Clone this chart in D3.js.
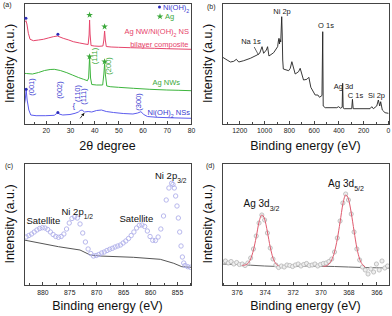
<!DOCTYPE html>
<html>
<head>
<meta charset="utf-8">
<style>
  body { margin: 0; background: #fff; }
  svg { font-family: "Liberation Sans", Arial, sans-serif; }
  .frame { fill: none; stroke: #444; stroke-width: 1; shape-rendering: crispEdges; }
  .axis path { display: none; }
  .axis line { stroke: #444; shape-rendering: crispEdges; }
  .axis text { font-size: 6.8px; fill: #222; font-family: "Liberation Sans", Arial, sans-serif; }
  .ylab, .xlab { font-size: 12.5px; fill: #111; }
  .tag { font-size: 7px; fill: #222; }
</style>
<script src="https://cdnjs.cloudflare.com/ajax/libs/d3/7.8.5/d3.min.js"></script>
</head>
<body>
<script>
// ---- (a) XRD patterns ----
var thetaRed = [11.0, 11.5, 11.8, 12.2, 12.8, 13.5, 14.9, 17, 19, 21, 23.1, 24.8, 27.2, 29.5, 31.4, 34, 36.2, 37.5, 37.9, 38.1, 38.3, 38.7, 40, 42, 43.6, 44.0, 44.3, 44.6, 45.0, 47, 50, 55, 60, 65, 70, 75, 80];
var redXRD = [100.7, 102.5, 103.3, 100, 90.7, 84.7, 83.3, 84, 84.7, 86, 87.3, 88, 85.7, 84, 82.3, 81, 80, 79.5, 89, 104, 90, 78.5, 78, 77.7, 78, 84, 93, 84, 77.5, 77, 76.7, 76.3, 76, 75.7, 75.3, 75, 74.7];

var thetaGreen = [11, 12, 14.5, 17, 19.5, 21.8, 23.5, 26, 28.7, 31, 33.5, 35.6, 37.2, 37.7, 38.1, 38.5, 39, 41, 43.5, 44.0, 44.3, 44.6, 45.2, 46.6, 50, 56.2, 63, 70, 75, 80];
var greenXRD = [50.7, 50.5, 50, 51.5, 53.5, 54.5, 54.7, 53.5, 51.3, 49, 46.5, 44.7, 43.3, 46, 67, 46, 39.5, 39, 39, 50, 60.5, 50, 38, 37.3, 36.7, 35.7, 34.7, 34, 33.7, 33.3];

var thetaBlue = [11.0, 11.5, 11.9, 12.3, 13, 13.8, 16, 20, 23.5, 24.5, 25.0, 25.5, 27, 30, 32.1, 33.5, 34.2, 35, 36, 37.5, 39, 41, 43, 45, 48, 52, 56, 58, 59.3, 60.5, 62, 66, 72, 80];
var blueXRD = [17.3, 24, 34, 24, 14, 9, 8.3, 8.3, 8.7, 10.5, 11.5, 10, 9, 9.5, 10.7, 12, 13.5, 14, 12, 12.5, 12, 13.5, 14, 12.5, 11.5, 10.5, 10, 11, 12.3, 9.5, 7.5, 6.7, 6.2, 5.7];

var niDots = [[11.8, 105.7], [25.0, 89.7], [11.9, 34.7], [25.0, 11.5]];
var agStars = [[38.1, 109], [44.3, 97.3], [38.1, 67.3], [44.3, 62.3]];

// ---- (b) XPS survey ----
var beSurvey = [1334, 1299, 1272, 1245, 1224, 1205, 1165, 1111, 1057, 1036, 1017, 1004, 982, 972, 961, 923, 891, 885, 880, 876, 872, 866, 858, 854, 850, 845, 802, 789, 776, 749, 722, 709, 682, 655, 639, 623, 588, 566, 553, 533, 527, 523, 507, 413, 400, 381, 370, 366, 362, 354, 293, 287, 281, 145, 131, 118, 91, 78, 67, 59, 46, 24, -3];
var survey = [66.7, 64, 62, 62.7, 64.7, 62, 63.3, 65.7, 69, 70.7, 77.3, 70.7, 74, 77.3, 68, 71.3, 77.3, 83, 85.7, 80, 84.5, 82, 107.3, 90, 64, 55, 53.3, 55.7, 62.3, 50, 52.3, 55.7, 44, 44.7, 46.7, 36.7, 29, 29, 26.7, 28.5, 92.3, 18, 16.3, 16.3, 17.3, 15.7, 17, 40.7, 16, 15.3, 15.3, 24.7, 15.3, 15.3, 17.3, 15.3, 18, 24, 18, 22.3, 14, 11.3, 10.7];

// ---- (c) Ni 2p ----
var beNi = [883.0, 882.5, 882.0, 881.5, 881.0, 880.5, 880.0, 879.5, 879.0, 878.5, 878.0, 877.5, 877.0, 876.5, 876.0, 875.5, 875.0, 874.5, 874.0, 873.5, 873.0, 872.5, 872.0, 871.5, 871.0, 870.5, 870.0, 869.5, 869.0, 868.5, 868.0, 867.5, 867.0, 866.5, 866.0, 865.5, 865.0, 864.5, 864.0, 863.5, 863.0, 862.5, 862.0, 861.5, 861.0, 860.5, 860.0, 859.5, 859.0, 858.5, 858.0, 857.5, 857.0, 856.5, 856.0, 855.75, 855.5, 855.25, 855.0, 854.75, 854.5, 854.25, 854.0, 853.75, 853.5, 853.0, 852.5];
var niCounts = [48, 49.5, 51, 53, 55, 56.5, 57.3, 57, 55.5, 53, 50.5, 48.5, 47.7, 48.5, 51, 56, 62, 66.5, 68.3, 67, 61, 52, 43, 36, 31.5, 29, 29.5, 30.5, 32, 33, 34.5, 35.7, 36.7, 38, 39, 40, 42, 44, 46.5, 49.5, 53, 57, 59.7, 60, 58.5, 54, 48.5, 44.7, 44.5, 48, 56, 69, 85, 97, 101.7, 100.5, 97, 89, 79, 67, 53, 39, 28, 22, 19.5, 18.3, 17.7];
var beNiBg = [883.4, 877.0, 873.0, 871.1, 869.3, 863.1, 858.1, 855.6, 854.1, 852.4];
var niBg = [45, 38.3, 35, 30, 29, 27.7, 25.7, 21.7, 18.3, 17.7];

// ---- (d) Ag 3d ----
var beAg = [377.0, 376.8, 376.6, 376.4, 376.2, 376.0, 375.8, 375.6, 375.4, 375.2, 375.0, 374.8, 374.6, 374.4, 374.2, 374.0, 373.8, 373.6, 373.4, 373.2, 373.0, 372.8, 372.6, 372.4, 372.2, 372.0, 371.8, 371.6, 371.4, 371.2, 371.0, 370.8, 370.6, 370.4, 370.2, 370.0, 369.8, 369.6, 369.4, 369.2, 369.0, 368.8, 368.6, 368.4, 368.2, 368.0, 367.8, 367.6, 367.4, 367.2, 367.0, 366.8, 366.6, 366.4, 366.2, 366.0, 365.8, 365.6, 365.4, 365.2];
var agCounts = [23, 24, 22, 23.5, 21, 22.5, 20.5, 21, 19.5, 22, 27, 36, 49, 62, 70, 65, 52, 37, 26, 20, 17.5, 19, 18, 20, 19.5, 18.5, 20, 21, 19, 20.5, 21.5, 19.5, 20, 21, 19, 20.5, 21.5, 22, 23.5, 26, 33, 47, 64, 82, 91, 85, 71, 53, 36, 25, 18, 15, 11, 16, 13, 21, 15, 24, 17, 19];
var beFit32 = [375.6, 375.4, 375.2, 375.0, 374.8, 374.6, 374.4, 374.2, 374.0, 373.8, 373.6, 373.4, 373.2, 373.0];
var fit32 = [19.6, 20, 21.5, 26, 35, 48, 63, 70, 66, 53, 38, 27, 21.5, 19.2];
var beFit52 = [369.8, 369.6, 369.4, 369.2, 369.0, 368.8, 368.6, 368.4, 368.2, 368.0, 367.8, 367.6, 367.4, 367.2, 367.0, 366.8];
var fit52 = [18.6, 19, 21, 25, 33, 46, 63, 81, 90, 86, 72, 54, 37, 26, 20.5, 18];
var beAgBg = [377, 376, 375, 374, 373, 372, 371, 370, 369, 368, 367, 366, 365.1];
var agBg = [21, 20.5, 19.8, 19, 18.5, 18.8, 19, 18.8, 18.5, 18, 17.5, 17.2, 17];

var svg = d3.select("body").append("svg").attr("width", 392).attr("height", 316);

function panel(id, box, xDom, yDom, major, minor, pad) {
  var x = d3.scaleLinear().domain(xDom).range([box.l, box.r]);
  var y = d3.scaleLinear().domain(yDom).range([box.b, box.t]);
  svg.append("clipPath").attr("id", id).append("rect")
    .attr("x", box.l).attr("y", box.t).attr("width", box.r - box.l).attr("height", box.b - box.t);
  svg.append("g").attr("class", "axis").attr("transform", "translate(0," + box.b + ")")
    .call(d3.axisBottom(x).tickValues(major).tickSizeInner(-3).tickSizeOuter(0).tickPadding(pad).tickFormat(d3.format("d")));
  svg.append("g").attr("class", "axis").attr("transform", "translate(0," + box.b + ")")
    .call(d3.axisBottom(x).tickValues(minor).tickSizeInner(-1.8).tickSizeOuter(0).tickFormat(""));
  var g = svg.append("g").attr("clip-path", "url(#" + id + ")");
  svg.append("rect").attr("class", "frame")
    .attr("x", box.l + 0.5).attr("y", box.t + 0.5).attr("width", box.r - box.l).attr("height", box.b - box.t);
  svg.append("text").attr("class", "ylab").attr("text-anchor", "middle")
    .attr("transform", "translate(" + (box.l - 14) + "," + ((box.t + box.b) / 2) + ") rotate(-90)")
    .attr("dy", "0.35em").text("Intensity (a.u.)");
  return { g: g, x: x, y: y };
}

function rich(parent, parts, x, y, size, color, anchor) {
  var t = parent.append("text").attr("x", x).attr("y", y).attr("font-size", size)
    .attr("fill", color).attr("text-anchor", anchor || "start");
  parts.forEach(function(p) {
    var s = t.append("tspan").text(p[0]);
    if (p[1]) s.attr("baseline-shift", "sub").attr("font-size", "70%");
  });
  return t;
}

function lineOf(p, xs, ys) {
  return d3.line().x(function(d, i) { return p.x(xs[i]); }).y(function(d) { return p.y(d); })(ys);
}

// ===== (a) =====
var A = panel("ca", {l: 24, r: 191, t: 3, b: 124}, [11, 80], [0, 121],
  [20, 30, 40, 50, 60, 70, 80], [15, 25, 35, 45, 55, 65, 75], 4.5);
A.g.append("path").attr("d", lineOf(A, thetaRed, redXRD)).attr("fill", "none").attr("stroke", "#e6456b").attr("stroke-width", 1);
A.g.append("path").attr("d", lineOf(A, thetaGreen, greenXRD)).attr("fill", "none").attr("stroke", "#3db53d").attr("stroke-width", 1);
A.g.append("path").attr("d", lineOf(A, thetaBlue, blueXRD)).attr("fill", "none").attr("stroke", "#5c5cee").attr("stroke-width", 1);
svg.selectAll(".nidot").data(niDots).enter().append("circle")
  .attr("cx", function(d) { return A.x(d[0]); }).attr("cy", function(d) { return A.y(d[1]); })
  .attr("r", 1.5).attr("fill", "#2a2ab8");
svg.selectAll(".agstar").data(agStars).enter().append("path")
  .attr("transform", function(d) { return "translate(" + A.x(d[0]) + "," + A.y(d[1]) + ")"; })
  .attr("d", d3.symbol().type(d3.symbolStar).size(14)).attr("fill", "#3aa83a");

// legend
svg.append("circle").attr("cx", 159.5).attr("cy", 7).attr("r", 1.5).attr("fill", "#2a2ab8");
rich(svg, [["Ni(OH)"], ["2", 1]], 163, 9.5, 7.5, "#3a3ad0");
svg.append("path").attr("transform", "translate(160,16.5)").attr("d", d3.symbol().type(d3.symbolStar).size(14)).attr("fill", "#3aa83a");
rich(svg, [["Ag"]], 165, 19, 7.5, "#3aa83a");
rich(svg, [["Ag NW/Ni(OH)"], ["2", 1], [" NS"]], 189, 34, 7.5, "#e6456b", "end");
rich(svg, [["bilayer composite"]], 188.5, 46.5, 7.5, "#e6456b", "end");
rich(svg, [["Ag NWs"]], 180, 85, 7.5, "#3aa83a", "end");
rich(svg, [["Ni(OH)"], ["2", 1], [" NSs"]], 190, 114.5, 7.5, "#3a3ad0", "end");

var peakLabs = [
  ["(111)", 40.0, 56, "#3aa83a"], ["(200)", 45.9, 66, "#3aa83a"],
  ["(001)", 14.2, 87, "#3a3ad0"], ["(002)", 25.7, 90, "#3a3ad0"],
  ["(110)", 32.9, 93.5, "#3a3ad0"], ["(111)", 35.6, 96.5, "#3a3ad0"], ["(300)", 58.2, 102, "#3a3ad0"]
];
peakLabs.forEach(function(p) {
  svg.append("text").attr("transform", "translate(" + A.x(p[1]) + "," + p[2] + ") rotate(-90)")
    .attr("text-anchor", "middle").attr("dy", "0.35em").attr("font-size", 7.5).attr("fill", p[3]).text(p[0]);
});
svg.append("text").attr("x", A.x(31.0)).attr("y", 108).attr("font-size", 8).attr("fill", "#3a3ad0").text("{");
svg.append("defs").append("marker").attr("id", "ah").attr("viewBox", "0 0 6 6").attr("refX", 5).attr("refY", 3)
  .attr("markerWidth", 4).attr("markerHeight", 4).attr("orient", "auto")
  .append("path").attr("d", "M0,0L6,3L0,6z").attr("fill", "#111");
svg.append("line").attr("x1", A.x(34.2)).attr("y1", A.y(5.7)).attr("x2", A.x(35.8)).attr("y2", A.y(10.7))
  .attr("stroke", "#111").attr("stroke-width", 0.8).attr("marker-end", "url(#ah)");
svg.append("text").attr("class", "xlab").attr("x", 107.5).attr("y", 150).attr("text-anchor", "middle").text("2θ degree");
svg.append("text").attr("class", "tag").attr("x", 3).attr("y", 7).text("(a)");

// ===== (b) =====
var B = panel("cb", {l: 222, r: 389, t: 3, b: 124}, [1340, -8], [0, 121],
  [1200, 1000, 800, 600, 400, 200, 0], [1300, 1100, 900, 700, 500, 300, 100], 4.5);
B.g.append("path").attr("d", lineOf(B, beSurvey, survey)).attr("fill", "none").attr("stroke", "#222").attr("stroke-width", 0.9);
var surveyLabs = [["Ni 2p", 282, 14], ["O 1s", 326, 28], ["Na 1s", 251, 44], ["Ag 3d", 343.5, 89], ["C 1s", 355.5, 97.5], ["Si 2p", 376.5, 97.5]];
surveyLabs.forEach(function(s) { rich(svg, [[s[0]]], s[1], s[2], 7.5, "#222", "middle"); });
svg.append("line").attr("x1", B.x(1080)).attr("y1", B.y(77)).attr("x2", B.x(1045)).attr("y2", B.y(69))
  .attr("stroke", "#222").attr("stroke-width", 0.7);
svg.append("text").attr("class", "xlab").attr("x", 305.5).attr("y", 150).attr("text-anchor", "middle").text("Binding energy (eV)");
svg.append("text").attr("class", "tag").attr("x", 207).attr("y", 8.5).text("(b)");

// ===== (c) =====
var C = panel("cc", {l: 24, r: 191, t: 163, b: 285}, [883.4, 852.4], [0, 122],
  [880, 875, 870, 865, 860, 855], [882.5, 877.5, 872.5, 867.5, 862.5, 857.5, 852.5], 5.5);
C.g.append("path").attr("d", lineOf(C, beNiBg, niBg)).attr("fill", "none").attr("stroke", "#555").attr("stroke-width", 1);
C.g.selectAll("circle").data(niCounts).enter().append("circle")
  .attr("cx", function(d, i) { return C.x(beNi[i]); }).attr("cy", function(d) { return C.y(d); })
  .attr("r", 2.2).attr("fill", "none").attr("stroke", "#b0b0ea").attr("stroke-width", 0.9);
rich(svg, [["Satellite"]], 26.5, 223.5, 9.5, "#111");
rich(svg, [["Ni 2p"], ["1/2", 1]], 61.5, 215, 9.5, "#111");
rich(svg, [["Satellite"]], 119.5, 221.5, 9.5, "#111");
rich(svg, [["Ni 2p"], ["3/2", 1]], 155, 178.5, 9.5, "#111");
svg.append("text").attr("class", "xlab").attr("x", 107.5).attr("y", 310).attr("text-anchor", "middle").text("Binding energy (eV)");
svg.append("text").attr("class", "tag").attr("x", 5).attr("y", 168).text("(c)");

// ===== (d) =====
var D = panel("cd", {l: 222, r: 389, t: 163, b: 285}, [377.05, 365.1], [0, 122],
  [376, 374, 372, 370, 368, 366], [377, 375, 373, 371, 369, 367], 5.5);
D.g.append("path").attr("d", lineOf(D, beAgBg, agBg)).attr("fill", "none").attr("stroke", "#666").attr("stroke-width", 1);
D.g.selectAll("circle").data(agCounts).enter().append("circle")
  .attr("cx", function(d, i) { return D.x(beAg[i]); }).attr("cy", function(d) { return D.y(d); })
  .attr("r", 2.1).attr("fill", "#eee").attr("stroke", "#b5b5b5").attr("stroke-width", 0.8);
D.g.append("path").attr("d", d3.line().curve(d3.curveMonotoneX).x(function(d, i) { return D.x(beFit32[i]); }).y(function(d) { return D.y(d); })(fit32))
  .attr("fill", "none").attr("stroke", "#e05a6e").attr("stroke-width", 1);
D.g.append("path").attr("d", d3.line().curve(d3.curveMonotoneX).x(function(d, i) { return D.x(beFit52[i]); }).y(function(d) { return D.y(d); })(fit52))
  .attr("fill", "none").attr("stroke", "#e05a6e").attr("stroke-width", 1);
rich(svg, [["Ag 3d"], ["3/2", 1]], 243.5, 207, 10, "#111");
rich(svg, [["Ag 3d"], ["5/2", 1]], 328, 187, 10, "#111");
svg.append("text").attr("class", "xlab").attr("x", 305.5).attr("y", 310).attr("text-anchor", "middle").text("Binding energy (eV)");
svg.append("text").attr("class", "tag").attr("x", 206).attr("y", 168).text("(d)");
</script>
</body>
</html>
